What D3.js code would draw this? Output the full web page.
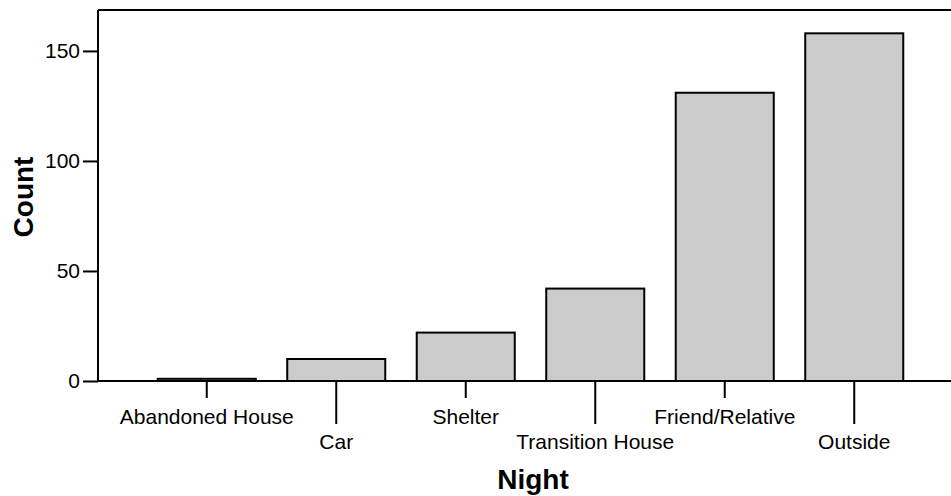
<!DOCTYPE html>
<html>
<head>
<meta charset="utf-8">
<script src="https://cdn.jsdelivr.net/npm/d3@7"></script>
<style>
  body { margin: 0; background: #fff; }
  text { font-family: "Liberation Sans", Arial, sans-serif; fill: #000; }
</style>
</head>
<body>
<div id="viz"></div>
<script>
const categories = ["Abandoned House", "Car", "Shelter", "Transition House", "Friend/Relative", "Outside"];
const counts = [1, 10, 22, 42, 131, 158];
const yTicks = [0, 50, 100, 150];

const width = 951;
const height = 496;
const plotLeft = 98, plotRight = 951, plotTop = 10, plotBottom = 381;

const svg = d3.select("#viz").append("svg")
    .attr("width", width)
    .attr("height", height);

const x = d3.scaleBand()
    .domain(categories)
    .range([142, 919])
    .paddingInner(0.243)
    .paddingOuter(0.1215);

const y = d3.scaleLinear()
    .domain([0, 168.6])
    .range([plotBottom, plotTop]);

// bars
svg.selectAll("rect.bar")
    .data(categories)
    .enter()
    .append("rect")
    .attr("class", "bar")
    .attr("x", d => x(d))
    .attr("width", x.bandwidth())
    .attr("y", (d, i) => y(counts[i]))
    .attr("height", (d, i) => y(0) - y(counts[i]))
    .attr("fill", "#cbcbcb")
    .attr("stroke", "#000")
    .attr("stroke-width", 2);

// frame: top line, left axis line, baseline
svg.append("line").attr("x1", plotLeft).attr("x2", plotRight).attr("y1", plotTop).attr("y2", plotTop)
    .attr("stroke", "#000").attr("stroke-width", 2);
svg.append("line").attr("x1", plotLeft).attr("x2", plotRight).attr("y1", plotBottom).attr("y2", plotBottom)
    .attr("stroke", "#000").attr("stroke-width", 2);

// y axis
const yAxis = svg.append("g")
    .attr("transform", `translate(${plotLeft},0)`)
    .call(d3.axisLeft(y).tickValues(yTicks).tickSize(15).tickPadding(3));
yAxis.select(".domain").attr("stroke-width", 2).attr("d", `M0,${plotTop}V${plotBottom}`);
yAxis.selectAll(".tick line").attr("stroke-width", 2);
yAxis.selectAll(".tick text")
    .style("font-size", "21px")
    .style("font-family", "'Liberation Sans', Arial, sans-serif")
    .attr("fill", "#000");

// x axis with staggered labels
const xAxis = svg.append("g")
    .attr("transform", `translate(0,${plotBottom})`)
    .call(d3.axisBottom(x).tickSize(0));
xAxis.select(".domain").remove();
xAxis.selectAll(".tick line")
    .attr("stroke-width", 2)
    .attr("y2", (d, i) => i % 2 === 0 ? 17 : 43);
xAxis.selectAll(".tick text")
    .style("font-size", "21px")
    .style("font-family", "'Liberation Sans', Arial, sans-serif")
    .attr("fill", "#000")
    .attr("dy", null)
    .attr("y", (d, i) => i % 2 === 0 ? 43 : 68);

// axis titles
svg.append("text")
    .attr("x", 533)
    .attr("y", 489)
    .attr("text-anchor", "middle")
    .style("font-size", "28px")
    .style("font-weight", "bold")
    .text("Night");

svg.append("text")
    .attr("transform", "translate(33,197) rotate(-90)")
    .attr("text-anchor", "middle")
    .style("font-size", "28px")
    .style("font-weight", "bold")
    .text("Count");
</script>
</body>
</html>
